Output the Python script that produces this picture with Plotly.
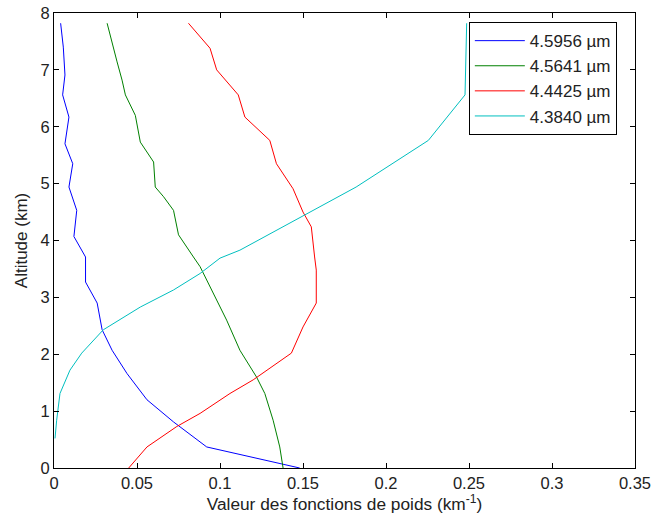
import plotly.graph_objects as go

# Series: (values in km^-1, altitude in km)
blue_x = [0.148, 0.092, 0.072, 0.056, 0.044, 0.035, 0.029, 0.026, 0.019, 0.019, 0.012, 0.0137, 0.009, 0.0113, 0.0066, 0.009, 0.0052, 0.0066, 0.0056, 0.004]
blue_y = [0.0, 0.37, 0.81, 1.2, 1.66, 2.07, 2.43, 2.9, 3.27, 3.71, 4.07, 4.53, 4.94, 5.35, 5.7, 6.17, 6.56, 6.91, 7.4, 7.82]

green_x = [0.138, 0.136, 0.132, 0.127, 0.122, 0.112, 0.104, 0.098, 0.088, 0.084, 0.075, 0.072, 0.066, 0.061, 0.060, 0.052, 0.049, 0.043, 0.041, 0.038, 0.032]
green_y = [0.0, 0.37, 0.84, 1.31, 1.6, 2.07, 2.6, 2.95, 3.54, 3.71, 4.1, 4.53, 4.77, 4.94, 5.38, 5.73, 6.2, 6.56, 6.82, 7.14, 7.82]

red_x = [0.045, 0.056, 0.074, 0.088, 0.106, 0.120, 0.143, 0.150, 0.158, 0.158, 0.157, 0.155, 0.150, 0.144, 0.134, 0.130, 0.115, 0.111, 0.098, 0.094, 0.081]
red_y = [0.0, 0.37, 0.73, 0.96, 1.31, 1.55, 2.02, 2.48, 2.9, 3.48, 3.71, 4.24, 4.5, 4.91, 5.35, 5.76, 6.17, 6.56, 7.0, 7.38, 7.82]

cyan_x = [0.0006, 0.0016, 0.0036, 0.0096, 0.0167, 0.0297, 0.052, 0.072, 0.088, 0.100, 0.112, 0.160, 0.182, 0.2255, 0.2476, 0.2486]
cyan_y = [0.52, 0.84, 1.31, 1.72, 2.02, 2.43, 2.83, 3.13, 3.42, 3.69, 3.83, 4.59, 4.94, 5.76, 6.56, 7.82]

names = ["4.5956 µm", "4.5641 µm", "4.4425 µm", "4.3840 µm"]
colors = ["#0000ff", "#008000", "#ff0000", "#00bfbf"]

x_ticks = [0, 0.05, 0.1, 0.15, 0.2, 0.25, 0.3, 0.35]
x_tick_labels = ["0", "0.05", "0.1", "0.15", "0.2", "0.25", "0.3", "0.35"]
y_ticks = [0, 1, 2, 3, 4, 5, 6, 7, 8]

FONT = "Liberation Sans, Arial"

fig = go.Figure()
for xs, ys, n, c in zip([blue_x, green_x, red_x, cyan_x],
                        [blue_y, green_y, red_y, cyan_y], names, colors):
    fig.add_trace(go.Scatter(x=xs, y=ys, mode="lines", name=n,
                             line=dict(color=c, width=1)))

axis_common = dict(showline=True, linecolor="black", linewidth=1, mirror="ticks",
                   ticks="inside", ticklen=5, tickcolor="black", showgrid=False,
                   zeroline=False, automargin=False,
                   tickfont=dict(family=FONT, size=16.5, color="#222"))

fig.update_xaxes(range=[0, 0.35], tickvals=x_ticks, ticktext=x_tick_labels,
                 title=dict(text="Valeur des fonctions de poids (km<sup>-1</sup>)",
                            font=dict(family=FONT, size=17.3, color="#222"),
                            standoff=4),
                 **axis_common)
fig.update_yaxes(range=[0, 8], tickvals=y_ticks,
                 title=dict(text="Altitude (km)",
                            font=dict(family=FONT, size=17, color="#222"),
                            standoff=8),
                 **axis_common)

fig.update_layout(
    width=653, height=525,
    margin=dict(l=54, r=18, t=13, b=57),
    paper_bgcolor="white", plot_bgcolor="white",
    legend=dict(x=0.714, y=0.98, xanchor="left", yanchor="top",
                bordercolor="black", borderwidth=1, bgcolor="white",
                font=dict(family=FONT, size=17, color="#222"),
                tracegroupgap=0, itemwidth=50),
    showlegend=True,
)

fig.write_html("out.html")
